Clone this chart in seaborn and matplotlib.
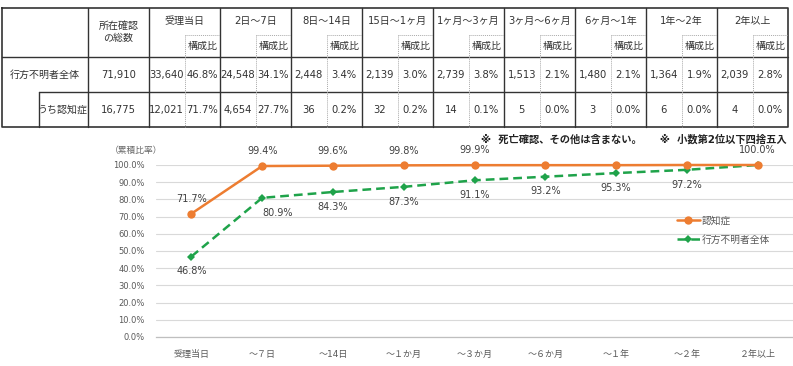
import numpy as np
import pandas as pd
import seaborn as sns
import matplotlib.pyplot as plt

# ---- table data ----
groups = ["受理当日", "2日〜7日", "8日〜14日", "15日〜1ヶ月", "1ヶ月〜3ヶ月",
          "3ヶ月〜6ヶ月", "6ヶ月〜1年", "1年〜2年", "2年以上"]
row_names = ["行方不明者全体", "うち認知症"]
totals = ["71,910", "16,775"]
all_counts = ["33,640", "24,548", "2,448", "2,139", "2,739", "1,513", "1,480", "1,364", "2,039"]
all_ratio = ["46.8%", "34.1%", "3.4%", "3.0%", "3.8%", "2.1%", "2.1%", "1.9%", "2.8%"]
dem_counts = ["12,021", "4,654", "36", "32", "14", "5", "3", "6", "4"]
dem_ratio = ["71.7%", "27.7%", "0.2%", "0.2%", "0.1%", "0.0%", "0.0%", "0.0%", "0.0%"]
note = "※  死亡確認、その他は含まない。     ※  小数第2位以下四捨五入"

# ---- chart data ----
periods = ["受理当日", "〜７日", "〜14日", "〜１か月", "〜３か月", "〜６か月", "〜１年", "〜２年", "２年以上"]
dementia_cum = [71.7, 99.4, 99.6, 99.8, 99.9, 99.9, 99.9, 100.0, 100.0]
all_cum = [46.8, 80.9, 84.3, 87.3, 91.1, 93.2, 95.3, 97.2, 100.0]
dementia_labels = [True, True, True, True, True, False, False, False, False]

sns.set_theme(style="white")
# latin digits from DejaVu (wide, like the original), CJK from Noto
plt.rcParams["font.family"] = ["DejaVu Sans", "Noto Sans CJK JP"]

W, H = 793, 366
fig = plt.figure(figsize=(W / 100, H / 100), dpi=100)

# ---------- table (pixel coordinates) ----------
tab = fig.add_axes([0, 0, 1, 1])
tab.set_xlim(0, W)
tab.set_ylim(H, 0)
tab.axis("off")

txt_col = "#333333"
line_col = "#333333"
fs = 7.2
left, right = 2, 788
top, hmid, h_bot, r2_bot, r3_bot = 8, 35, 57, 92, 127
x_name_split, x_tot_l, x_grp_l = 39, 88, 149
gw = (right - x_grp_l) / len(groups)
grp_edges = [x_grp_l + i * gw for i in range(len(groups) + 1)]

# outer frame and solid lines
tab.plot([left, right, right, left, left], [top, top, r3_bot, r3_bot, top], color=line_col, lw=1.2)
tab.plot([left, right], [h_bot, h_bot], color=line_col, lw=1)
tab.plot([x_name_split, right], [r2_bot, r2_bot], color=line_col, lw=1)
tab.plot([x_name_split, x_name_split], [r2_bot, r3_bot], color=line_col, lw=1)
for x in [x_tot_l] + grp_edges[:-1]:
    tab.plot([x, x], [top, r3_bot], color=line_col, lw=1)

# dashed sub columns
for i in range(len(groups)):
    xs = grp_edges[i] + gw / 2
    tab.plot([xs, xs], [hmid, r3_bot], color="#AAAAAA", lw=0.7, ls=(0, (1, 1)))
    tab.plot([xs, grp_edges[i + 1]], [hmid, hmid], color="#AAAAAA", lw=0.7, ls=(0, (1, 1)))

# header text
tab.text((x_tot_l + x_grp_l) / 2, 32, "所在確認\nの総数", ha="center", va="center",
         fontsize=fs, color=txt_col, linespacing=1.15)
for i, g in enumerate(groups):
    tab.text(grp_edges[i] + gw / 2, 21, g, ha="center", va="center", fontsize=fs, color=txt_col)
    tab.text(grp_edges[i] + gw * 0.75, 46, "構成比", ha="center", va="center", fontsize=fs, color=txt_col)

# body
tab.text((left + x_tot_l) / 2, 75, row_names[0], ha="center", va="center", fontsize=fs, color=txt_col)
tab.text(x_tot_l - 1, 110, row_names[1], ha="right", va="center", fontsize=fs, color=txt_col)
for y, tot, cnt, rat in [(75, totals[0], all_counts, all_ratio), (110, totals[1], dem_counts, dem_ratio)]:
    tab.text((x_tot_l + x_grp_l) / 2, y, tot, ha="center", va="center", fontsize=fs, color=txt_col)
    for i in range(len(groups)):
        tab.text(grp_edges[i] + gw * 0.25, y, cnt[i], ha="center", va="center", fontsize=fs, color=txt_col)
        tab.text(grp_edges[i] + gw * 0.75, y, rat[i], ha="center", va="center", fontsize=fs, color=txt_col)

tab.text(787, 140, note, ha="right", va="center", fontsize=7.4, color="#222222", fontweight="bold")
tab.text(110, 150, "（累積比率）", ha="left", va="center", fontsize=6.3, color="#666666")

# ---------- line chart ----------
ax_l, ax_r, ax_t, ax_b = 156, 793, 165, 337
ax = fig.add_axes([ax_l / W, (H - ax_b) / H, (ax_r - ax_l) / W, (ax_b - ax_t) / H])

df = pd.DataFrame({"period": periods, "認知症": dementia_cum, "行方不明者全体": all_cum})
xpos = np.arange(len(periods))
orange = "#ED7D31"
green = "#1FA34A"

sns.lineplot(x=xpos, y=df["認知症"], ax=ax, color=orange, lw=1.8, marker="o",
             markersize=6, markeredgewidth=0, label="認知症", clip_on=False, zorder=4)
sns.lineplot(x=xpos, y=df["行方不明者全体"], ax=ax, color=green, lw=1.8, ls=(0, (3.5, 2)),
             marker="D", markersize=4, markeredgewidth=0, label="行方不明者全体", clip_on=False, zorder=3)

ax.set_xlim(-0.5, len(periods) - 0.5)
ax.set_ylim(0, 100)
ax.set_yticks(np.arange(0, 101, 10))
ax.set_yticklabels([f"{v:.1f}%" for v in np.arange(0, 101, 10)])
ax.set_xticks(xpos)
ax.set_xticklabels(periods)
ax.tick_params(axis="y", labelsize=6.0, colors="#595959", pad=8, length=0)
ax.tick_params(axis="x", labelsize=6.5, colors="#595959", pad=9, length=0)
ax.set_xlabel("")
ax.set_ylabel("")
ax.grid(axis="y", color="#D9D9D9", lw=0.8)
ax.grid(axis="x", visible=False)
for s in ["top", "right", "left"]:
    ax.spines[s].set_visible(False)
ax.spines["bottom"].set_color("#BFBFBF")
ax.spines["bottom"].set_linewidth(0.9)

lab_fs = 7.0
for i, (v, show) in enumerate(zip(dementia_cum, dementia_labels)):
    if show:
        ax.annotate(f"{v:.1f}%", (i, v), xytext=(0, 7), textcoords="offset points",
                    ha="center", va="bottom", fontsize=lab_fs, color="#404040")
for i, v in enumerate(all_cum):
    if i == len(all_cum) - 1:
        ax.annotate(f"{v:.1f}%", (i, v), xytext=(0, 7), textcoords="offset points",
                    ha="center", va="bottom", fontsize=lab_fs, color="#404040")
    else:
        # the 2nd label sits a bit right of its point so it clears the line
        dx = 11 if i == 1 else 0
        ax.annotate(f"{v:.1f}%", (i, v), xytext=(dx, -7), textcoords="offset points",
                    ha="center", va="top", fontsize=lab_fs, color="#404040")

ax.legend(loc="upper left", bbox_to_anchor=((668 - ax_l) / (ax_r - ax_l), 1 - (207 - ax_t) / (ax_b - ax_t)),
          frameon=False, fontsize=7.0, handlelength=2.4, handletextpad=0.15, labelspacing=0.9,
          labelcolor="#595959")

fig.savefig("out.png", dpi=100)
